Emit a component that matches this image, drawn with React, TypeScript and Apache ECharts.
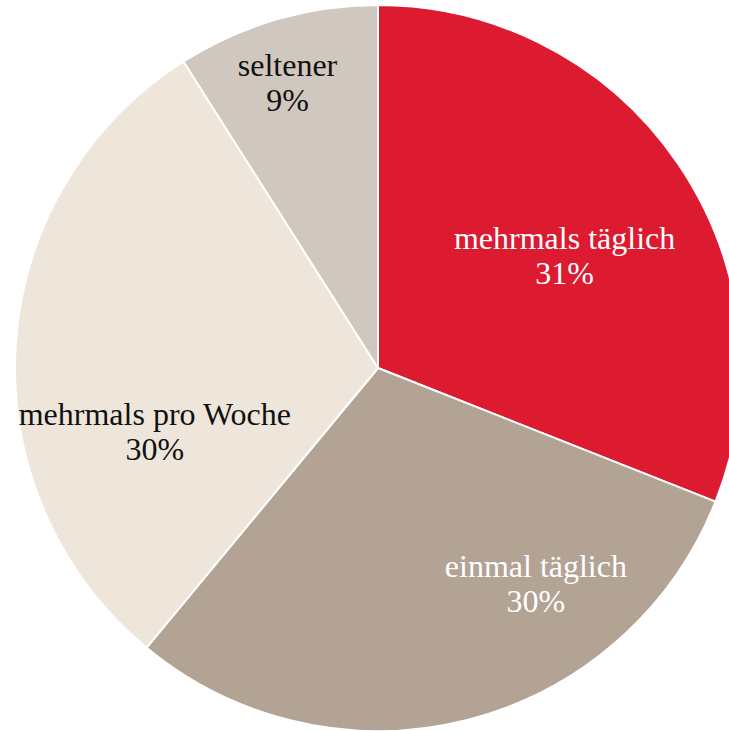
import React, { useEffect, useRef } from "react";
import * as echarts from "echarts";

const categories = ["mehrmals täglich", "einmal täglich", "mehrmals pro Woche", "seltener"];
const values = [31, 30, 30, 9];
const colors = ["#DC1A30", "#B2A395", "#EEE6DA", "#D0C7BE"];
const labelColors = ["#FFFFFF", "#FFFFFF", "#111111", "#111111"];
const labelOffsets: [number, number][] = [
  [34, -9],
  [112, 37],
  [-39, 75],
  [-39, -108],
];

export default function App() {
  const ref = useRef<HTMLDivElement>(null);
  useEffect(() => {
    if (!ref.current) return;
    const chart = echarts.init(ref.current, null, { renderer: "svg" });
    chart.setOption({
      animation: false,
      backgroundColor: "#FFFFFF",
      series: [
        {
          type: "pie",
          center: [378, 368],
          radius: [0, 363],
          startAngle: 90,
          clockwise: true,
          avoidLabelOverlap: false,
          silent: true,
          itemStyle: { borderColor: "#FFFFFF", borderWidth: 2 },
          label: {
            show: true,
            position: "inside",
            fontFamily: "Liberation Serif",
            fontSize: 32,
            lineHeight: 35,
            align: "center",
            formatter: (p: any) => `${p.name}\n${p.value}%`,
          },
          labelLine: { show: false },
          labelLayout: (p: any) => ({
            dx: labelOffsets[p.dataIndex][0],
            dy: labelOffsets[p.dataIndex][1],
          }),
          data: categories.map((c, i) => ({
            name: c,
            value: values[i],
            itemStyle: { color: colors[i] },
            label: { color: labelColors[i] },
          })),
        },
      ],
    });
    return () => chart.dispose();
  }, []);
  return (
    <div
      ref={ref}
      style={{ position: "absolute", left: 0, top: 0, width: 729, height: 731 }}
    />
  );
}
